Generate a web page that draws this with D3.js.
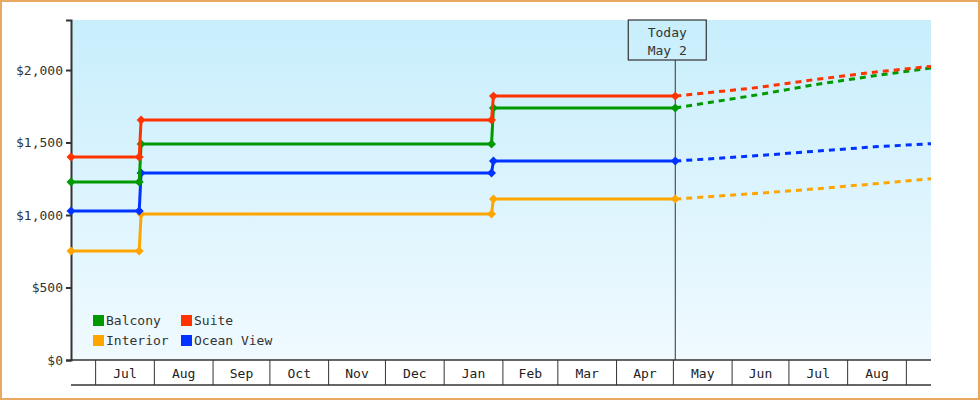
<!DOCTYPE html>
<html><head><meta charset="utf-8">
<script src="https://cdn.jsdelivr.net/npm/d3@7"></script>
<style>body{margin:0;background:#fff}svg{display:block;font-family:"DejaVu Sans Mono",monospace}</style>
</head><body><div id="chart"></div>
<script>
const seriesNames = ["Balcony", "Suite", "Interior", "Ocean View"]
const seriesColors = ["#009900", "#ff3300", "#ffa500", "#0033ff"]
const stepDates = ["2023-06-18", "2023-07-24", "2023-07-25", "2024-01-26", "2024-01-27", "2024-05-02"]
const balcony = [1228, 1228, 1490, 1490, 1738, 1738]
const suite = [1400, 1400, 1655, 1655, 1820, 1820]
const interior = [752, 752, 1007, 1007, 1110, 1110]
const oceanView = [1028, 1028, 1290, 1290, 1372, 1372]
const forecastDates = ["2024-05-02", "2024-06-15", "2024-07-15", "2024-08-15", "2024-09-14"]
const balconyF = [1738, 1830, 1900, 1960, 2014]
const suiteF = [1820, 1880, 1935, 1985, 2025]
const interiorF = [1110, 1150, 1180, 1215, 1250]
const oceanViewF = [1372, 1410, 1440, 1470, 1492]
const monthLabels = ["Jul","Aug","Sep","Oct","Nov","Dec","Jan","Feb","Mar","Apr","May","Jun","Jul","Aug"]
const yTicks = [0, 500, 1000, 1500, 2000]
const todayLabel = ["Today", "May 2"]

const W = 980, H = 400
const m = {l: 71, r: 49, t: 20, b: 40}
const parse = d3.timeParse("%Y-%m-%d")
const x = d3.scaleTime().domain([parse("2023-06-18"), parse("2024-09-14")]).range([m.l, W - m.r])
const y = d3.scaleLinear().domain([0, 2345]).range([H - m.b, m.t])

const svg = d3.select("#chart").append("svg").attr("width", W).attr("height", H)
const defs = svg.append("defs")
const grad = defs.append("linearGradient").attr("id", "bg").attr("x1", 0).attr("x2", 0).attr("y1", 0).attr("y2", 1)
grad.append("stop").attr("offset", 0).attr("stop-color", "#c8eefc")
grad.append("stop").attr("offset", 1).attr("stop-color", "#f0faff")

svg.append("rect").attr("x", 1).attr("y", 1).attr("width", W - 2).attr("height", H - 2)
    .attr("fill", "#fff").attr("stroke", "#e8a860").attr("stroke-width", 2)
svg.append("rect").attr("x", m.l).attr("y", m.t).attr("width", W - m.r - m.l).attr("height", H - m.b - m.t)
    .attr("fill", "url(#bg)")

// y axis
const yAxis = svg.append("g").attr("transform", `translate(${m.l},0)`)
    .call(d3.axisLeft(y).tickValues(yTicks).tickSize(5).tickFormat(d => "$" + d3.format(",")(d)))
yAxis.select(".domain").attr("stroke", "#333").attr("stroke-width", 2)
yAxis.selectAll(".tick line").attr("stroke", "#333").attr("stroke-width", 2)
yAxis.selectAll("text").attr("font-size", 13).attr("fill", "#333").attr("font-family", "DejaVu Sans Mono")

// x axis band with month boxes
const months = d3.timeMonth.range(parse("2023-07-01"), parse("2024-09-02"))
const xb = svg.append("g")
xb.append("line").attr("x1", m.l).attr("x2", W - m.r).attr("y1", H - m.b).attr("y2", H - m.b).attr("stroke", "#333").attr("stroke-width", 1.5)
xb.append("line").attr("x1", m.l).attr("x2", W - m.r).attr("y1", H - 15).attr("y2", H - 15).attr("stroke", "#333").attr("stroke-width", 1.5)
xb.selectAll("line.sep").data(months).join("line").attr("class", "sep")
    .attr("x1", d => x(d)).attr("x2", d => x(d)).attr("y1", H - m.b).attr("y2", H - 15).attr("stroke", "#333")
xb.selectAll("text").data(months.slice(0, -1)).join("text")
    .attr("x", (d, i) => (x(d) + x(months[i + 1])) / 2).attr("y", H - 22)
    .attr("text-anchor", "middle").attr("font-size", 13).attr("fill", "#222")
    .text((d, i) => monthLabels[i])

// today marker
const today = x(parse("2024-05-02"))
svg.append("line").attr("x1", today).attr("x2", today).attr("y1", 60).attr("y2", H - m.b).attr("stroke", "#333")
svg.append("rect").attr("x", today - 47).attr("y", m.t).attr("width", 78).attr("height", 40)
    .attr("fill", "none").attr("stroke", "#333").attr("stroke-width", 1.2)
svg.selectAll("text.today").data(todayLabel).join("text").attr("class", "today")
    .attr("x", today - 8).attr("y", (d, i) => 37 + i * 18).attr("text-anchor", "middle")
    .attr("font-size", 13).attr("fill", "#333").text(d => d)

// series
const steps = [balcony, suite, interior, oceanView]
const forecasts = [balconyF, suiteF, interiorF, oceanViewF]
const line = d3.line().x(d => x(d[0])).y(d => y(d[1]))
const order = [2, 3, 0, 1]
order.forEach(i => {
    const pts = stepDates.map((d, j) => [parse(d), steps[i][j]])
    const fpts = forecastDates.map((d, j) => [parse(d), forecasts[i][j]])
    svg.append("path").attr("d", line(fpts)).attr("fill", "none")
        .attr("stroke", seriesColors[i]).attr("stroke-width", 3).attr("stroke-dasharray", "6,5")
    svg.append("path").attr("d", line(pts)).attr("fill", "none")
        .attr("stroke", seriesColors[i]).attr("stroke-width", 3)
    svg.selectAll(null).data(pts).join("path")
        .attr("d", d3.symbol(d3.symbolSquare, 40))
        .attr("transform", d => `translate(${x(d[0])},${y(d[1])}) rotate(45)`)
        .attr("fill", seriesColors[i])
})

// legend
const lg = svg.append("g")
seriesNames.forEach((name, i) => {
    const lx = 93 + (i % 2) * 88, ly = 315 + Math.floor(i / 2) * 20
    lg.append("rect").attr("x", lx).attr("y", ly).attr("width", 11).attr("height", 11).attr("fill", seriesColors[i])
    lg.append("text").attr("x", lx + 13).attr("y", ly + 10).attr("font-size", 13).attr("fill", "#333").text(name)
})
</script></body></html>
